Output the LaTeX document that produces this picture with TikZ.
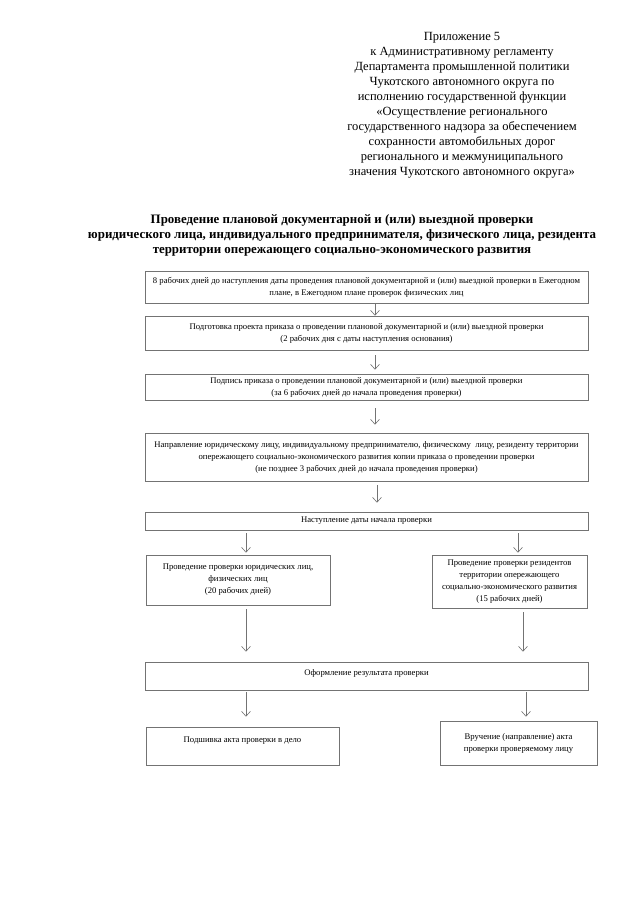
\documentclass[tikz,border=0pt]{standalone}
\usepackage{fontspec}
\setmainfont{Liberation Serif}
\usetikzlibrary{arrows.meta,positioning}

\tikzset{
  stepbox/.style={draw=black!55, line width=0.6pt, align=center, inner sep=1pt,
    font=\fontsize{8.65}{12}\selectfont},
  flow/.style={draw=black!55, line width=0.6pt, -{Straight Barb[length=5pt,width=9pt]}},
}

\begin{document}
\begin{tikzpicture}[x=1pt,y=-1pt]
    \useasboundingbox (0,0) rectangle (640,905);

    % Header
    \node[align=center, font=\fontsize{12.5}{15}\selectfont] (annex) at (462,105.5)
        {Приложение 5\\ к Административному регламенту\\ Департамента промышленной политики\\
         Чукотского автономного округа по\\ исполнению государственной функции\\
         «Осуществление регионального\\ государственного надзора за обеспечением\\
         сохранности автомобильных дорог\\ регионального и межмуниципального\\
         значения Чукотского автономного округа»};

    % Title
    \node[align=center, font=\bfseries\fontsize{12.9}{15}\selectfont] (title) at (342,235)
        {Проведение плановой документарной и (или) выездной проверки\\
         юридического лица, индивидуального предпринимателя, физического лица, резидента\\
         территории опережающего социально-экономического развития};

    % Main chain
    \node[stepbox, minimum width=443, minimum height=32] (plan) at (366.5,287)
        {8 рабочих дней до наступления даты проведения плановой документарной и (или) выездной проверки в Ежегодном\\
         плане, в Ежегодном плане проверок физических лиц};
    \node[stepbox, minimum width=443, minimum height=34] (draft) at (366.5,333)
        {Подготовка проекта приказа о проведении плановой документарной и (или) выездной проверки\\
         (2 рабочих дня с даты наступления основания)};
    \node[stepbox, minimum width=443, minimum height=26] (sign) at (366.5,387)
        {Подпись приказа о проведении плановой документарной и (или) выездной проверки\\
         (за 6 рабочих дней до начала проведения проверки)};
    \node[stepbox, minimum width=443, minimum height=48] (notice) at (366.5,457)
        {Направление юридическому лицу, индивидуальному предпринимателю, физическому\ \ лицу, резиденту территории\\
         опережающего социально-экономического развития копии приказа о проведении проверки\\
         (не позднее 3 рабочих дней до начала проведения проверки)};
    \node[stepbox, minimum width=443, minimum height=18] (start) at (366.5,521)
        {Наступление даты начала проверки};

    % Two branches
    \node[stepbox, minimum width=184, minimum height=50] (legal) at (238,580)
        {Проведение проверки юридических лиц,\\ физических лиц\\ (20 рабочих дней)};
    \node[stepbox, minimum width=155, minimum height=53] (resident) at (509.5,581.5)
        {Проведение проверки резидентов\\ территории опережающего\\
         социально-экономического развития\\ (15 рабочих дней)};

    \node[stepbox, minimum width=443, minimum height=28, text depth=8pt] (result) at (366.5,676)
        {Оформление результата проверки};

    \node[stepbox, minimum width=193, minimum height=38, text depth=12pt] (file) at (242.5,746)
        {Подшивка акта проверки в дело};
    \node[stepbox, minimum width=157, minimum height=44] (hand) at (518.5,743)
        {Вручение (направление) акта\\ проверки проверяемому лицу};

    % Arrows
    \foreach \a/\b/\dx/\s/\e in {plan/draft/8.5/0/0, draft/sign/8.5/5/4,
                                 sign/notice/8.5/8/8, notice/start/10.5/4/9} {
        \draw[flow, shorten <=\s pt, shorten >=\e pt] ([xshift=\dx pt]\a.south) -- ([xshift=\dx pt]\b.north);
    }
    \draw[flow, shorten <=3pt, shorten >=2pt] ([xshift=8pt]legal.north |- start.south) -- ([xshift=8pt]legal.north);
    \draw[flow, shorten <=3pt, shorten >=2pt] ([xshift=8.5pt]resident.north |- start.south) -- ([xshift=8.5pt]resident.north);
    \draw[flow, shorten <=4pt, shorten >=10pt] ([xshift=8pt]legal.south) -- ([xshift=8pt]legal.south |- result.north);
    \draw[flow, shorten <=4pt, shorten >=10pt] ([xshift=13.5pt]resident.south) -- ([xshift=13.5pt]resident.south |- result.north);
    \draw[flow, shorten <=2pt, shorten >=10pt] ([xshift=3.5pt]file.north |- result.south) -- ([xshift=3.5pt]file.north);
    \draw[flow, shorten <=2pt, shorten >=4pt] ([xshift=7.5pt]hand.north |- result.south) -- ([xshift=7.5pt]hand.north);
\end{tikzpicture}
\end{document}
